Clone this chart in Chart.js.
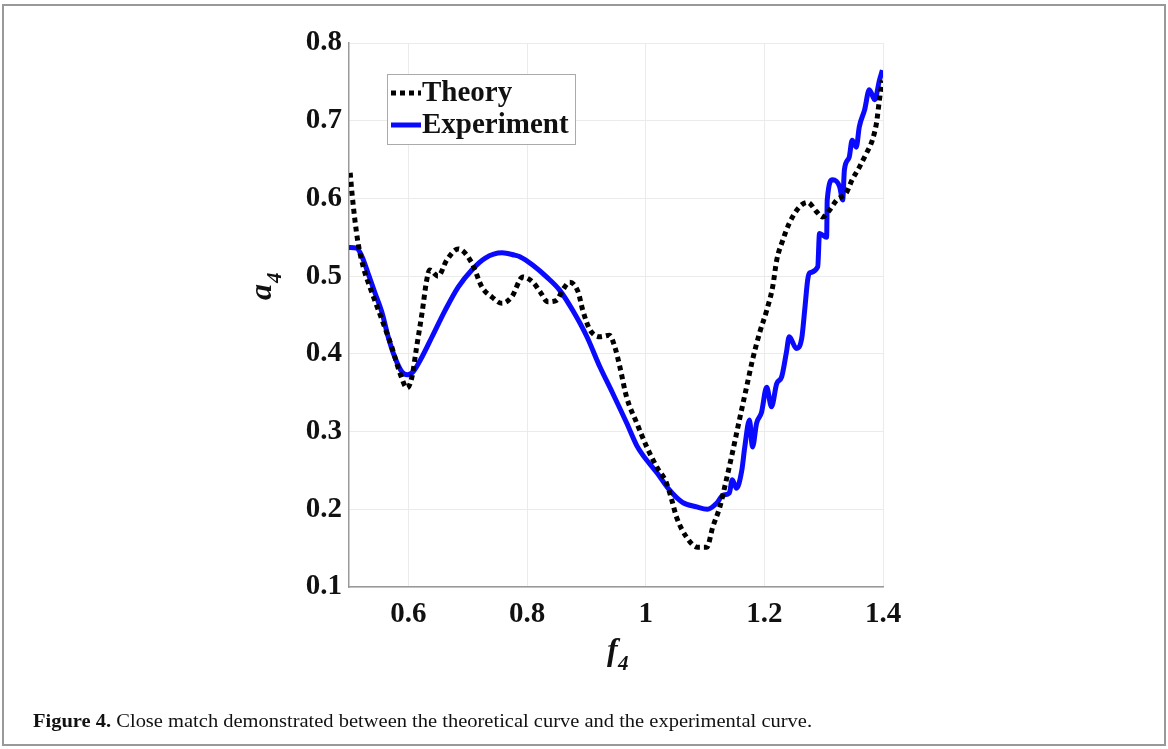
<!DOCTYPE html>
<html>
<head>
<meta charset="utf-8">
<script src="https://cdn.jsdelivr.net/npm/chart.js@4/dist/chart.umd.min.js"></script>
<style>
  html, body { margin: 0; padding: 0; background: #fff; }
  #fig { display: block; }
</style>
</head>
<body>
<canvas id="fig" width="1168" height="749"></canvas>
<script>
// values
const theoryF = [0.502, 0.505, 0.510, 0.515, 0.524, 0.539, 0.556, 0.572, 0.586, 0.598, 0.606, 0.614, 0.623, 0.631, 0.636, 0.650, 0.665, 0.684, 0.707, 0.724, 0.741, 0.758, 0.774, 0.793, 0.810, 0.822, 0.835, 0.850, 0.860, 0.872, 0.886, 0.894, 0.906, 0.923, 0.939, 0.948, 0.956, 0.968, 0.985, 1.002, 1.019, 1.035, 1.044, 1.052, 1.069, 1.088, 1.103, 1.113, 1.125, 1.136, 1.146, 1.158, 1.170, 1.180, 1.192, 1.204, 1.214, 1.221, 1.231, 1.242, 1.259, 1.273, 1.288, 1.298, 1.310, 1.322, 1.338, 1.348, 1.360, 1.372, 1.382, 1.389, 1.394, 1.399];
const theoryA = [0.633, 0.607, 0.572, 0.544, 0.512, 0.478, 0.443, 0.409, 0.375, 0.356, 0.370, 0.409, 0.452, 0.495, 0.508, 0.500, 0.521, 0.535, 0.517, 0.486, 0.473, 0.465, 0.473, 0.499, 0.492, 0.480, 0.467, 0.469, 0.482, 0.492, 0.480, 0.456, 0.431, 0.422, 0.424, 0.409, 0.385, 0.344, 0.311, 0.280, 0.254, 0.234, 0.212, 0.190, 0.164, 0.151, 0.151, 0.177, 0.203, 0.238, 0.272, 0.315, 0.357, 0.392, 0.427, 0.456, 0.486, 0.521, 0.546, 0.568, 0.589, 0.595, 0.583, 0.576, 0.585, 0.598, 0.607, 0.624, 0.640, 0.658, 0.675, 0.697, 0.727, 0.752];

const expF = [0.500, 0.513, 0.522, 0.532, 0.544, 0.556, 0.566, 0.577, 0.589, 0.598, 0.608, 0.623, 0.640, 0.662, 0.684, 0.707, 0.729, 0.758, 0.779, 0.788, 0.810, 0.833, 0.855, 0.877, 0.901, 0.923, 0.944, 0.968, 0.985, 0.995, 1.019, 1.040, 1.062, 1.086, 1.104, 1.120, 1.130, 1.141, 1.146, 1.153, 1.162, 1.167, 1.175, 1.180, 1.187, 1.195, 1.204, 1.212, 1.221, 1.229, 1.237, 1.242, 1.254, 1.263, 1.268, 1.273, 1.276, 1.290, 1.293, 1.305, 1.306, 1.315, 1.327, 1.332, 1.335, 1.343, 1.348, 1.355, 1.360, 1.369, 1.377, 1.386, 1.394, 1.399];
const expA = [0.537, 0.536, 0.525, 0.504, 0.478, 0.452, 0.422, 0.396, 0.377, 0.373, 0.377, 0.396, 0.422, 0.456, 0.486, 0.508, 0.523, 0.530, 0.527, 0.525, 0.514, 0.499, 0.482, 0.456, 0.422, 0.383, 0.350, 0.311, 0.282, 0.270, 0.247, 0.225, 0.209, 0.203, 0.200, 0.208, 0.218, 0.221, 0.238, 0.227, 0.250, 0.280, 0.315, 0.280, 0.311, 0.324, 0.357, 0.332, 0.362, 0.370, 0.401, 0.422, 0.407, 0.420, 0.456, 0.495, 0.504, 0.512, 0.555, 0.550, 0.598, 0.624, 0.615, 0.598, 0.637, 0.653, 0.675, 0.666, 0.692, 0.714, 0.740, 0.727, 0.752, 0.765];

const xTicks = [0.6, 0.8, 1, 1.2, 1.4];
const yTicks = [0.1, 0.2, 0.3, 0.4, 0.5, 0.6, 0.7, 0.8];
const seriesNames = ["Theory", "Experiment"];
const caption = ["Figure 4.", " Close match demonstrated between the theoretical curve and the experimental curve."];

const serif = '"Liberation Serif", "Times New Roman", serif';
const BLUE = "#0a0aff";

const pts = (xs, ys) => xs.map((x, i) => ({ x: x, y: ys[i] }));

// legend, axis titles, caption and frame drawn on top
const decor = {
  id: "decor",
  afterDraw(chart) {
    const ctx = chart.ctx;
    const ds = chart.data.datasets;
    ctx.save();

    // frame
    ctx.strokeStyle = "#999";
    ctx.lineWidth = 2;
    ctx.strokeRect(3, 5, 1162, 740);

    // legend box
    ctx.fillStyle = "#fff";
    ctx.fillRect(387, 74, 188, 70);
    ctx.strokeStyle = "#aaa";
    ctx.lineWidth = 1;
    ctx.strokeRect(387.5, 74.5, 188, 70);

    const rows = [93, 125];
    ds.forEach((d, i) => {
      ctx.beginPath();
      ctx.strokeStyle = d.borderColor;
      ctx.lineWidth = d.borderWidth;
      ctx.lineCap = "butt";
      ctx.setLineDash(d.borderDash || []);
      ctx.moveTo(391, rows[i]);
      ctx.lineTo(421, rows[i]);
      ctx.stroke();
      ctx.setLineDash([]);
      ctx.fillStyle = "#111";
      ctx.font = "bold 29px " + serif;
      ctx.textAlign = "left";
      ctx.textBaseline = "middle";
      ctx.fillText(d.label, 422, rows[i] + 1);
    });

    // x title f_4
    ctx.fillStyle = "#111";
    ctx.textBaseline = "alphabetic";
    ctx.font = "italic bold 32px " + serif;
    ctx.fillText("f", 607, 660);
    ctx.font = "italic bold 21px " + serif;
    ctx.fillText("4", 618, 670);

    // y title a_4
    ctx.save();
    ctx.translate(271, 300);
    ctx.rotate(-Math.PI / 2);
    ctx.font = "italic bold 32px " + serif;
    ctx.fillText("a", 0, 0);
    ctx.font = "italic bold 21px " + serif;
    ctx.fillText("4", 17, 10);
    ctx.restore();

    // caption, fitted to the width it takes in the figure
    ctx.font = "bold 19px " + serif;
    const w1 = ctx.measureText(caption[0]).width;
    ctx.font = "19px " + serif;
    const w2 = ctx.measureText(caption[1]).width;
    const sx = (812 - 33) / (w1 + w2);
    ctx.save();
    ctx.translate(33, 727);
    ctx.scale(sx, 1);
    ctx.font = "bold 19px " + serif;
    ctx.fillText(caption[0], 0, 0);
    ctx.font = "19px " + serif;
    ctx.fillText(caption[1], w1, 0);
    ctx.restore();

    ctx.restore();
  }
};

const whiteBg = {
  id: "whiteBg",
  beforeDraw(chart) {
    const ctx = chart.ctx;
    ctx.save();
    ctx.fillStyle = "#fff";
    ctx.fillRect(0, 0, chart.width, chart.height);
    ctx.restore();
  }
};

new Chart(document.getElementById("fig").getContext("2d"), {
  type: "line",
  data: {
    datasets: [
      {
        label: seriesNames[0],
        data: pts(theoryF, theoryA),
        borderColor: "#000",
        borderWidth: 5,
        borderDash: [5, 4],
        borderCapStyle: "butt",
        cubicInterpolationMode: "monotone",
        pointRadius: 0,
        fill: false,
      },
      {
        label: seriesNames[1],
        data: pts(expF, expA),
        borderColor: BLUE,
        borderWidth: 5,
        borderJoinStyle: "round",
        cubicInterpolationMode: "monotone",
        pointRadius: 0,
        fill: false,
      },
    ],
  },
  options: {
    responsive: false,
    animation: false,
    devicePixelRatio: 1,
    layout: { padding: { left: 0, top: 43, right: 285, bottom: 0 } },
    plugins: {
      legend: { display: false },
      tooltip: { enabled: false },
    },
    scales: {
      x: {
        type: "linear",
        min: 0.5,
        max: 1.4,
        afterFit: (s) => { s.height = 162; },
        afterBuildTicks: (s) => { s.ticks = xTicks.map((v) => ({ value: v })); },
        ticks: {
          padding: 10,
          color: "#111",
          font: { family: serif, size: 29, weight: "bold" },
          callback: (v) => String(Number(v.toFixed(1))),
        },
        grid: { color: "#ebebeb", lineWidth: 1, drawTicks: false },
        border: { color: "#999", width: 1.5 },
      },
      y: {
        min: 0.1,
        max: 0.8,
        afterFit: (s) => { s.width = 349; },
        afterBuildTicks: (s) => { s.ticks = yTicks.map((v) => ({ value: v })); },
        ticks: {
          padding: 7,
          color: "#111",
          font: { family: serif, size: 29, weight: "bold" },
          callback: (v) => v.toFixed(1),
        },
        grid: { color: "#ebebeb", lineWidth: 1, drawTicks: false },
        border: { color: "#999", width: 1.5 },
      },
    },
  },
  plugins: [whiteBg, decor],
});
</script>
</body>
</html>
